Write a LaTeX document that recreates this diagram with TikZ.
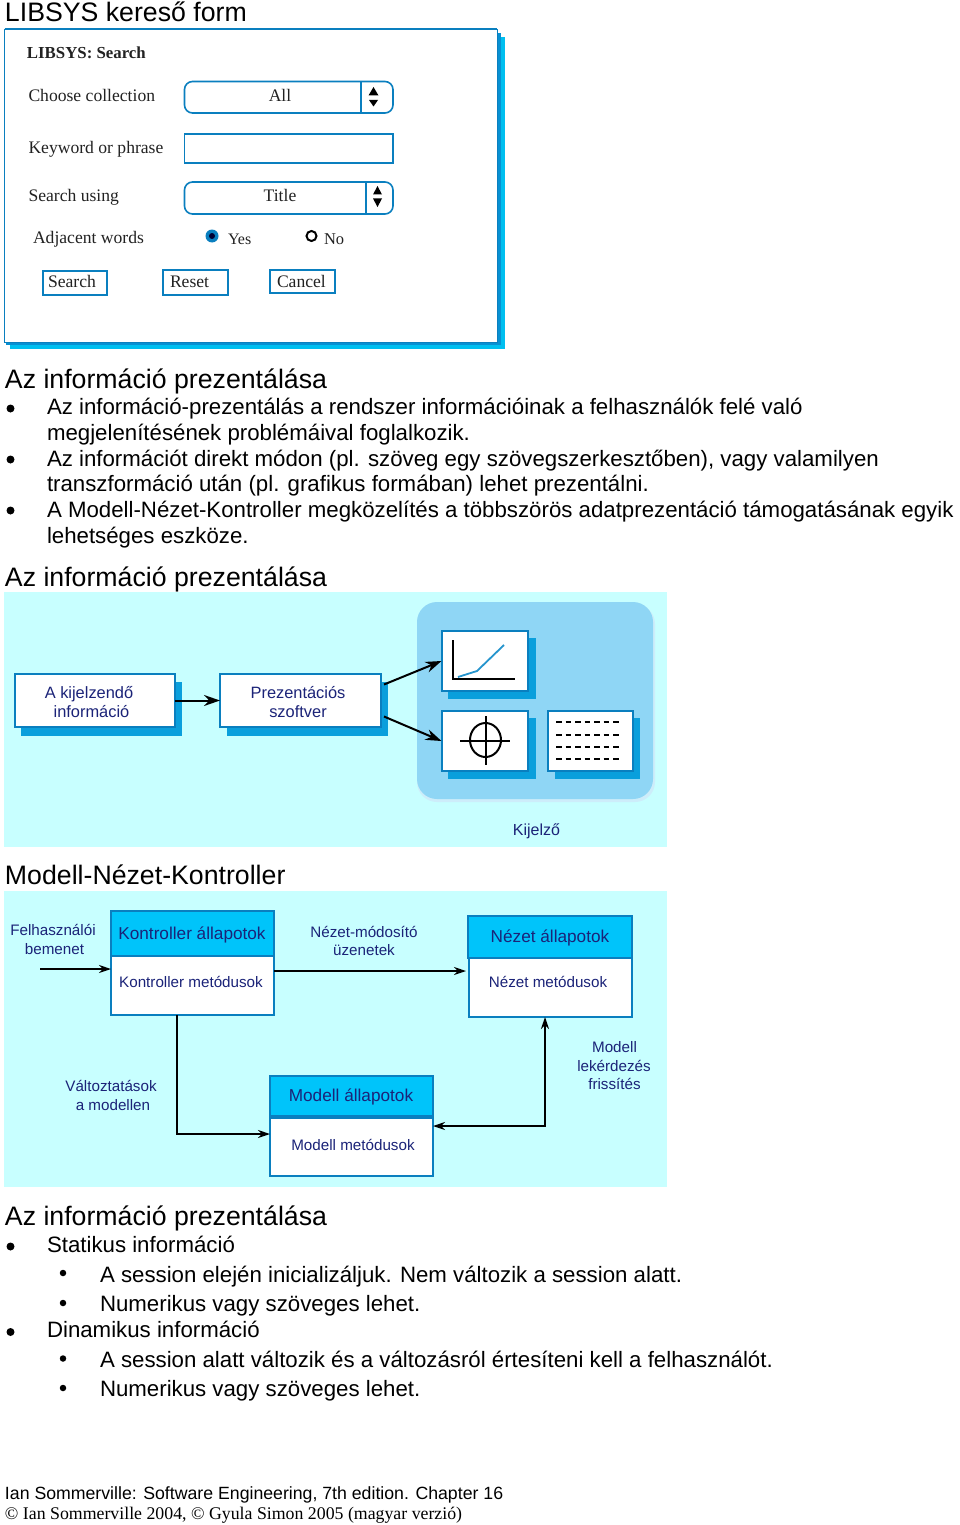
\documentclass[tikz,border=0pt]{standalone}
\usepackage{fontspec}
\setmainfont{Liberation Sans}
\newfontfamily\serifform{Liberation Serif}
\usetikzlibrary{arrows.meta}
\definecolor{edgeblue}{HTML}{0A7FBF}
\definecolor{shadowblue}{HTML}{0A9FDC}
\definecolor{darkband}{HTML}{0890D2}
\definecolor{lightcyan}{HTML}{00BFF0}
\definecolor{bgcyan}{HTML}{C8FFFF}
\definecolor{panelblue}{HTML}{8FD6F5}
\definecolor{headblue}{HTML}{00C4FA}
\definecolor{navy}{HTML}{1B2378}
\definecolor{formtext}{HTML}{222222}
\tikzset{
  every node/.style={inner sep=0pt,outer sep=0pt},
  head/.style={anchor=base west,font=\fontsize{26.7}{26.7}\selectfont},
  body/.style={anchor=base west,font=\fontsize{22.25}{22.25}\selectfont},
  foot/.style={anchor=base west,font=\fontsize{17.7}{17.7}\selectfont},
  footserif/.style={anchor=base west,font=\serifform\fontsize{17.8}{17.8}\selectfont},
  formlabel/.style={anchor=base west,text=formtext,font=\serifform\fontsize{17.6}{17.6}\selectfont},
  formmid/.style={anchor=base,text=formtext,font=\serifform\fontsize{17.6}{17.6}\selectfont},
  fld/.style={draw=edgeblue,line width=1.6pt,fill=white},
  rfld/.style={fld,rounded corners=8pt},
  fbtn/.style={draw=edgeblue,line width=1.7pt,fill=white},
  dbox/.style={draw=edgeblue,line width=2pt,fill=white},
  mbox/.style={draw=edgeblue,line width=1.3pt,fill=white},
  mhead/.style={draw=edgeblue,line width=1.3pt,fill=headblue},
  dtxt/.style={anchor=base,text=navy,font=\fontsize{15.2}{15.2}\selectfont},
  dtxtb/.style={anchor=base,text=navy,font=\fontsize{16.4}{16.4}\selectfont},
  htxt/.style={anchor=base,text=navy,font=\fontsize{17.2}{17.2}\selectfont},
  arr/.style={draw=black,line width=2pt,-{Stealth[length=16pt,width=11pt]}},
  thinarr/.style={draw=black,line width=1.5pt,-{Stealth[length=12pt,width=8pt]}},
  twoarr/.style={draw=black,line width=1.5pt,{Stealth[length=12pt,width=8pt]}-{Stealth[length=12pt,width=8pt]}},
  bul/.style={circle,fill=black,minimum size=8pt},
  sbul/.style={circle,fill=black,minimum size=6.5pt},
}
\newcommand{\bx}[6]{\node[#6,minimum width={#3-#1},minimum height={#4-#2}] (#5) at ({(#1+#3)/2},{(#2+#4)/2}) {};}
\begin{document}
\begin{tikzpicture}[x=1pt,y=-1pt]
\useasboundingbox (0,0) rectangle (960,1525);
\node[head] (t1) at (5,22) {LIBSYS kereső form};
% search form
\fill[lightcyan] (10,37) rectangle (505,349);
\fill[darkband] (6,33) rectangle (501,345);
\bx{4.5}{29.5}{497}{342}{form}{draw=edgeblue,line width=1pt,fill=white}
\draw[edgeblue,line width=2pt] (form.north west) -- (form.north east);
\node[anchor=base west,text=formtext,font=\serifform\bfseries\fontsize{16.8}{16.8}\selectfont] (ft) at (27,59) {LIBSYS: Search};
\node[formlabel] (l1) at (28.5,101.5) {Choose collection};
\node[formlabel] (l2) at (28.5,153.5) {Keyword or phrase};
\node[formlabel] (l3) at (28.5,201.5) {Search using};
\node[formlabel] (l4) at (33,243) {Adjacent words};
\bx{184.5}{81.5}{393}{113}{f1}{rfld}
\draw[edgeblue,line width=1.6pt] (361,81.5) -- (361,113);
\node[formmid] (v1) at (280,101.5) {All};
\fill (373.5,87) -- (378.5,95.5) -- (368.5,95.5) -- cycle;
\fill (369,100) -- (378,100) -- (373.5,106.5) -- cycle;
\bx{184.5}{134}{393}{163}{f2}{fld}
\bx{184.5}{182}{393}{214}{f3}{rfld}
\draw[edgeblue,line width=1.6pt] (366,182) -- (366,214);
\node[formmid] (v3) at (280,201.5) {Title};
\fill (377.5,186) -- (382,194.5) -- (373,194.5) -- cycle;
\fill (373,198.5) -- (382,198.5) -- (377.5,207) -- cycle;
\node[circle,fill=edgeblue,minimum size=13pt] (r1) at (212,236) {};
\node[circle,fill=black!80!blue,minimum size=6pt] (r1b) at (212,236) {};
\node[circle,draw=black,line width=2pt,fill=white,minimum size=10pt] (r2) at (311.5,236) {};
\node[formlabel,font=\serifform\fontsize{16}{16}\selectfont] (yes) at (228,244) {Yes};
\node[formlabel,font=\serifform\fontsize{16.5}{16.5}\selectfont] (no) at (324,244) {No};
\bx{43}{271}{107}{295}{b1}{fbtn}
\bx{163}{270}{228}{295}{b2}{fbtn}
\bx{270}{270}{335}{293}{b3}{fbtn}
\node[formlabel] (bt1) at (48,287) {Search};
\node[formlabel] (bt2) at (170,287) {Reset};
\node[formlabel] (bt3) at (277,287) {Cancel};
% text block 1
\node[head] (t2) at (5,388) {Az információ prezentálása};
\node[bul] (p1) at (10.5,408.5) {};
\node[bul] (p2) at (10.5,459.5) {};
\node[bul] (p3) at (10.5,510.5) {};
\node[body] at (47,414.5) {Az információ-prezentálás a rendszer információinak a felhasználók felé való};
\node[body] at (47,440.5) {megjelenítésének problémáival foglalkozik.};
\node[body] at (47,466) {Az információt direkt módon (pl. szöveg egy szövegszerkesztőben), vagy valamilyen};
\node[body] at (47,491.5) {transzformáció után (pl. grafikus formában) lehet prezentálni.};
\node[body] at (47,517) {A Modell-Nézet-Kontroller megközelítés a többszörös adatprezentáció támogatásának egyik};
\node[body] at (47,543) {lehetséges eszköze.};
\node[head] (t3) at (5,586) {Az információ prezentálása};
% diagram 1
\fill[bgcyan] (4,592) rectangle (667,846.5);
\fill[white!55!panelblue,rounded corners=20pt] (417,604) rectangle (655,802);
\fill[panelblue,rounded corners=20pt] (417,602) rectangle (653,799);
\fill[shadowblue] (21,682) rectangle (182,736);
\fill[shadowblue] (227,682) rectangle (388,736);
\fill[shadowblue] (448,638) rectangle (536,699);
\fill[shadowblue] (448,718) rectangle (536,779);
\fill[shadowblue] (555,718) rectangle (640,779);
\bx{14.5}{674}{175}{727}{n1}{dbox}
\bx{220}{674}{381}{727}{n2}{dbox}
\bx{441.5}{631}{528}{691}{chart}{dbox}
\bx{441.5}{711}{528}{771}{cross}{dbox}
\bx{548}{711}{633}{771}{grid}{dbox}
\node[dtxtb] at (89,698) {A kijelzendő};
\node[dtxtb] at (91.5,717) {információ};
\node[dtxtb] at (298,698) {Prezentációs};
\node[dtxtb] at (298,717) {szoftver};
\node[dtxtb,font=\fontsize{16}{16}\selectfont] at (536.5,835) {Kijelző};
\draw[arr] (n1.east) -- (n2.west);
\draw[arr] ([xshift=3pt,yshift=16pt]n2.east) -- (chart.west);
\draw[arr] ([xshift=3pt,yshift=-16pt]n2.east) -- (cross.west);
\draw[black,line width=1.8pt] (453,640) -- (453,679) -- (515,679);
\draw[cyan!50!edgeblue,line width=1.8pt] (458,677) -- (477,671) -- (504,645);
\draw[black,line width=2pt] (485.5,740) circle[x radius=15.5,y radius=17];
\draw[black,line width=2pt] (460,741) -- (510,741);
\draw[black,line width=2pt] (485.5,716) -- (485.5,765);
\foreach \yy in {722,735,747,759}
  \draw[black,line width=2.5pt,dash pattern=on 5.5pt off 4pt] (556,\yy) -- (622,\yy);
% diagram 2 title
\node[head] (t4) at (5,884) {Modell-Nézet-Kontroller};
\fill[bgcyan] (4,891) rectangle (667,1187);
\bx{111}{956}{274}{1015}{kb}{mbox}
\bx{111}{911}{274}{956}{kh}{mhead}
\bx{469}{958}{632}{1017}{nb}{mbox}
\bx{468}{916}{632}{958}{nh}{mhead}
\bx{270}{1118}{433}{1176}{mb}{mbox}
\bx{270}{1076}{433}{1116}{mh}{mhead}
\node[dtxt] at (53,935) {Felhasználói};
\node[dtxt] at (54.5,954) {bemenet};
\node[htxt] at (192,939) {Kontroller állapotok};
\node[dtxt] at (191,987) {Kontroller metódusok};
\node[dtxt] at (364,937) {Nézet-módosító};
\node[dtxt] at (364,955) {üzenetek};
\node[htxt] at (550,942) {Nézet állapotok};
\node[dtxt] at (548,987) {Nézet metódusok};
\node[dtxt] at (111,1091) {Változtatások};
\node[dtxt] at (113,1110) {a modellen};
\node[htxt] at (351,1101) {Modell állapotok};
\node[dtxt] at (353,1150) {Modell metódusok};
\node[dtxt] at (614.5,1052) {Modell};
\node[dtxt] at (614,1071) {lekérdezés};
\node[dtxt] at (614.5,1089) {frissítés};
\coordinate (inp) at (40,969);
\coordinate (cor1) at (177,1134);
\coordinate (cor2) at (545,1126);
\draw[thinarr] (inp) -- (kb.west |- inp);
\draw[thinarr] ([yshift=14.5pt]kb.east) -- ([xshift=-3pt,yshift=16.5pt]nb.west);
\draw[thinarr] (kb.south -| cor1) -- (cor1) -- (mb.west |- cor1);
\draw[twoarr] (mb.east |- cor2) -- (cor2) -- (nb.south -| cor2);
% text block 2
\node[head] (t5) at (5,1225) {Az információ prezentálása};
\node[bul] at (10.5,1246.5) {};
\node[bul] at (10.5,1332) {};
\node[sbul] at (63,1273) {};
\node[sbul] at (63,1303) {};
\node[sbul] at (63,1358.5) {};
\node[sbul] at (63,1388) {};
\node[body] at (47,1252) {Statikus információ};
\node[body] at (100,1282) {A session elején inicializáljuk. Nem változik a session alatt.};
\node[body] at (100,1311.5) {Numerikus vagy szöveges lehet.};
\node[body] at (47,1337.5) {Dinamikus információ};
\node[body] at (100,1367.5) {A session alatt változik és a változásról értesíteni kell a felhasználót.};
\node[body] at (100,1396.5) {Numerikus vagy szöveges lehet.};
\node[foot] at (5,1499) {Ian Sommerville: Software Engineering, 7th edition. Chapter 16};
\node[footserif] at (5,1519) {© Ian Sommerville 2004, © Gyula Simon 2005 (magyar verzió)};
\end{tikzpicture}
\end{document}
